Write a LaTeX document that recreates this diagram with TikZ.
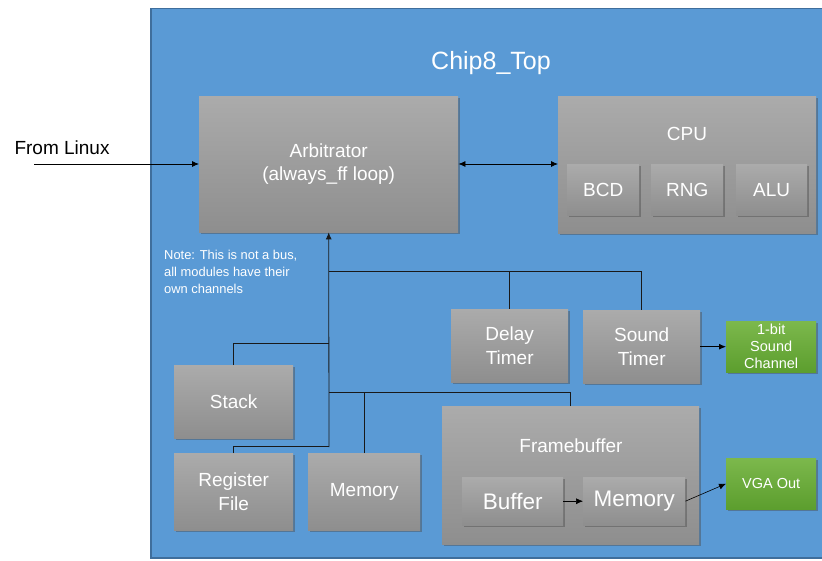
\documentclass[tikz,border=0pt]{standalone}
\usepackage{fontspec}
\setmainfont{Liberation Sans}
\usetikzlibrary{shadows,arrows.meta}
\definecolor{chipblue}{HTML}{5A9AD5}
\definecolor{chipedge}{HTML}{3F6E9C}
\definecolor{gtop}{HTML}{ABABAB}
\definecolor{gbot}{HTML}{8E8E8E}
\definecolor{grtop}{HTML}{7CB84C}
\definecolor{grbot}{HTML}{5C9E2E}
\tikzset{
  blk/.style={rectangle, anchor=north west, inner sep=0pt, align=center,
    top color=gtop, bottom color=gbot, draw=none, text=white,
    drop shadow={shadow xshift=1.5pt, shadow yshift=-2pt, opacity=0.45, fill=black!70}},
  grn/.style={blk, top color=grtop, bottom color=grbot},
  arr/.style={-{Latex[length=7pt,width=6pt]}, line width=0.8pt},
  bus/.style={line width=0.9pt, draw=black!90},
  big/.style={font=\fontsize{19}{23.5}\selectfont}
}
\begin{document}
\begin{tikzpicture}[x=1pt,y=-1pt]
\useasboundingbox (0,0) rectangle (822,561);
\fill[white] (0,0) rectangle (822,561);
% chip
\node[anchor=north west, inner sep=0pt, minimum width=676pt, minimum height=549pt,
  fill=chipblue, draw=chipedge, line width=1.5pt] (chip) at (150,8) {};
\node[text=white, font=\fontsize{25}{29}\selectfont] (title) at (491,63) {Chip8\_Top};
% arbitrator
\node[blk, big, minimum width=259pt, minimum height=136pt] (arb) at (199,96) {Arbitrator\\(always\_ff loop)};
% CPU
\node[blk, minimum width=258pt, minimum height=137pt] (cpu) at (558,96) {};
\node[text=white, big] (cpulbl) at (687,134) {CPU};
\node[blk, big, minimum width=72pt, minimum height=51pt] (bcd) at (567,164) {BCD};
\node[blk, big, minimum width=72pt, minimum height=51pt] (rng) at (651,164) {RNG};
\node[blk, big, minimum width=71pt, minimum height=51pt] (alu) at (736,164) {ALU};
% timers
\node[blk, big, minimum width=117pt, minimum height=73pt] (dt) at (451,309) {Delay\\Timer};
\node[blk, big, minimum width=117pt, minimum height=73pt] (snd) at (583,310) {Sound\\Timer};
\node[grn, minimum width=90pt, minimum height=51pt, font=\fontsize{14.5}{17}\selectfont] (sch) at (726,321) {1-bit\\Sound\\Channel};
% left blocks
\node[blk, big, minimum width=119pt, minimum height=73pt] (stack) at (174,365) {Stack};
\node[blk, big, minimum width=119pt, minimum height=77pt] (reg) at (174,453) {Register\\File};
\node[blk, big, minimum width=112pt, minimum height=77pt] (mem) at (308,453) {Memory};
% framebuffer
\node[blk, minimum width=257pt, minimum height=138pt] (fb) at (442,406) {};
\node[text=white, big] (fblbl) at (571,446) {Framebuffer};
\node[blk, minimum width=101pt, minimum height=48pt, font=\fontsize{22.5}{26}\selectfont] (buf) at (462,477) {Buffer};
\node[blk, minimum width=102pt, minimum height=48pt, font=\fontsize{22.5}{26}\selectfont] (fbmem) at (583,477) {Memory};
\node[grn, minimum width=90pt, minimum height=51pt, font=\fontsize{14.5}{17}\selectfont] (vga) at (726,458) {VGA Out};
% texts
\node[anchor=west, font=\fontsize{19}{22}\selectfont] (linux) at (11,148) {From Linux};
\coordinate (lstart) at (34,164);
\node[anchor=north west, align=left, text=white, inner sep=0pt, font=\fontsize{12.9}{17}\selectfont] (note) at (164,250) {Note: This is not a bus,\\all modules have their\\own channels};
% connectors
\draw[arr] (lstart) -- (lstart -| arb.west);
\draw[arr, {Latex[length=7pt,width=6pt]}-{Latex[length=7pt,width=6pt]}] (arb.east |- 0,164) -- (cpu.west |- 0,164);
\coordinate (j0) at (329,447);
\coordinate (h1) at (329,271);
\coordinate (h2) at (329,343);
\coordinate (h3) at (329,392);
\coordinate (h4) at (329,446);
\draw[bus, arr] (j0) -- (arb.south);
\draw[bus] (dt.north) |- (h1);
\draw[bus] (snd.north) |- (h1);
\draw[bus] (stack.north) |- (h2);
\draw[bus] (reg.north) |- (h4);
\draw[bus] (mem.north) |- (h3);
\draw[bus] (fb.north) |- (h3);
\draw[arr] (snd.east) -- (sch.west);
\draw[arr, line width=0.6pt] (buf.east) -- (fbmem.west);
\draw[arr, line width=0.6pt] (fbmem.east) -- (vga.west);
\end{tikzpicture}
\end{document}
